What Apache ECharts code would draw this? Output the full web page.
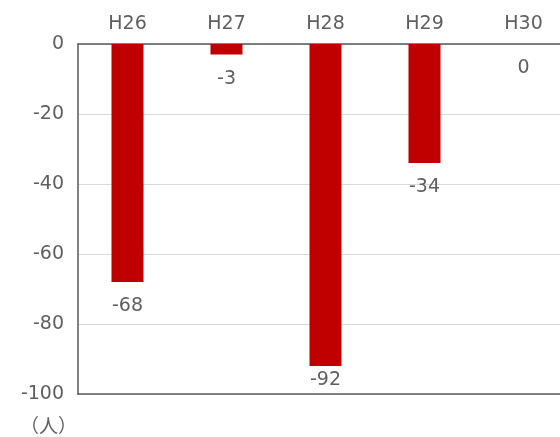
<!DOCTYPE html>
<html><head><meta charset="utf-8">
<script src="https://cdn.jsdelivr.net/npm/echarts@6/dist/echarts.min.js"></script>
<style>html,body{margin:0;padding:0;background:#fff;overflow:hidden}#c{width:590px;height:437px}</style>
</head><body><div id="c"></div>
<script>
const categories = ['H26','H27','H28','H29','H30'];
const values = [-68, -3, -92, -34, 0];
const yTicks = {min: -100, max: 0, interval: 20};
const unitLabel = '（人）';

const font = "'DejaVu Sans', sans-serif";
const txt = '#5f5f5f';
const chart = echarts.init(document.getElementById('c'));
chart.setOption({
  animation: false,
  grid: {left: 78, top: 44, width: 495, height: 350},
  xAxis: [{
    type: 'category', data: categories, position: 'top',
    axisLine: {show: true, lineStyle: {color: '#595959', width: 1.5}},
    axisTick: {show: false},
    axisLabel: {color: txt, fontSize: 19, fontFamily: font, margin: 10}
  }, {
    type: 'category', data: categories, position: 'bottom',
    axisLine: {show: true, onZero: false, lineStyle: {color: '#595959', width: 1.5}},
    axisTick: {show: false}, axisLabel: {show: false}
  }],
  yAxis: {
    type: 'value', min: yTicks.min, max: yTicks.max, interval: yTicks.interval,
    axisLine: {show: true, lineStyle: {color: '#595959', width: 1.5}},
    axisTick: {show: false},
    axisLabel: {color: txt, fontSize: 19, fontFamily: font, margin: 14, padding: [4, 0, 0, 0]},
    splitLine: {lineStyle: {color: '#d9d9d9', width: 1}}
  },
  series: [{
    type: 'bar', xAxisIndex: 0,
    data: values.map(v => v < -85 ? {value: v, label: {distance: 5}} : v),
    barWidth: 32,
    itemStyle: {color: '#C00000'},
    label: {show: true, position: 'bottom', distance: 15, color: txt, fontSize: 19, fontFamily: font}
  }],
  graphic: [{
    type: 'text', left: 20, top: 416,
    style: {text: unitLabel, fill: txt, font: "19px 'Noto Sans CJK JP', sans-serif"}
  }]
});
</script></body></html>
